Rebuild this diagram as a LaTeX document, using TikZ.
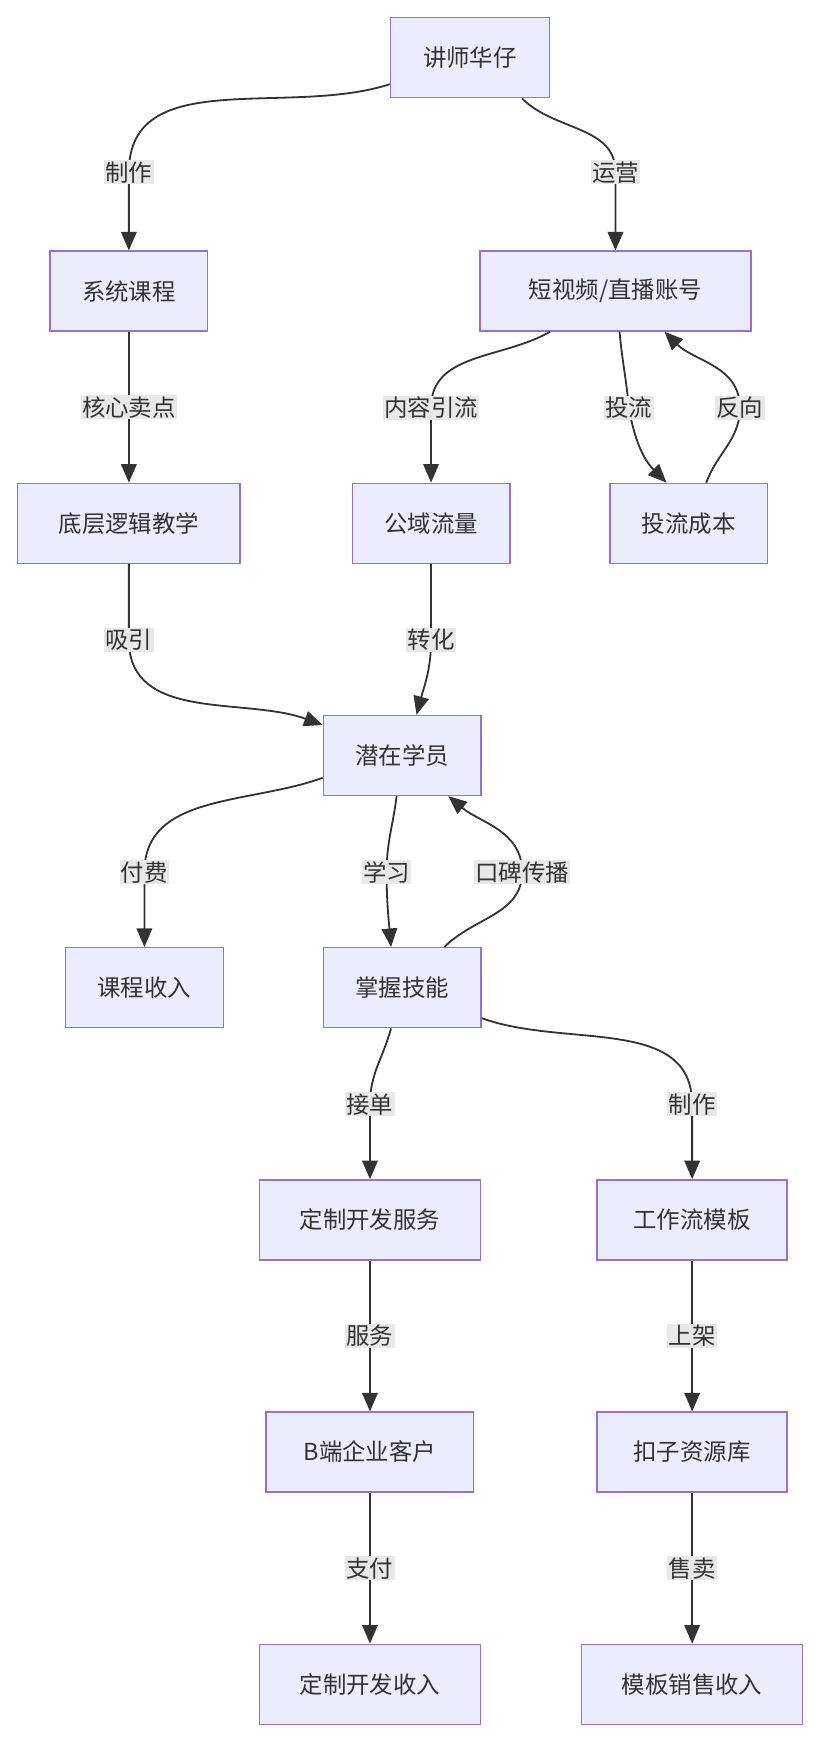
\documentclass[tikz,border=0pt]{standalone}
\usepackage{fontspec}
\setmainfont{Noto Sans CJK SC}
\usetikzlibrary{arrows.meta,calc}
\definecolor{boxfill}{HTML}{ECECFF}
\definecolor{boxline}{HTML}{9370DB}
\definecolor{ink}{HTML}{333333}
\definecolor{lblbg}{HTML}{E8E8E8}
\tikzset{
  box/.style={draw=boxline, fill=boxfill, line width=1pt, minimum height=2.16cm,
    inner xsep=0.45cm, text=ink, font=\fontsize{18}{22}\selectfont},
  lbl/.style={fill=lblbg, inner sep=1pt, text=ink, font=\fontsize{18}{22}\selectfont},
  arr/.style={draw=ink, line width=1.4pt, -{Triangle[length=0.5cm,width=0.42cm]}},
}
\begin{document}
\begin{tikzpicture}[x=0.03cm,y=-0.03cm]
    \useasboundingbox (0,0) rectangle (740,1568);

    % Nodes
    \node[box, minimum width=4.29cm] (teacher) at (423,52) {讲师华仔};
    \node[box, minimum width=4.26cm] (course) at (116,262) {系统课程};
    \node[box, minimum width=7.32cm] (video) at (554,262) {短视频/直播账号};
    \node[box, minimum width=6cm] (logic) at (116,471) {底层逻辑教学};
    \node[box, minimum width=4.26cm] (traffic) at (388,471) {公域流量};
    \node[box, minimum width=4.26cm] (cost) at (620,471) {投流成本};
    \node[box, minimum width=4.26cm] (student) at (362,680) {潜在学员};
    \node[box, minimum width=4.26cm] (income) at (130,889) {课程收入};
    \node[box, minimum width=4.26cm] (skill) at (362,889) {掌握技能};
    \node[box, minimum width=5.97cm] (service) at (333,1098) {定制开发服务};
    \node[box, minimum width=5.13cm] (flow) at (623,1098) {工作流模板};
    \node[box, minimum width=5.61cm] (client) at (333,1307) {B端企业客户};
    \node[box, minimum width=5.13cm] (store) at (623,1307) {扣子资源库};
    \node[box, minimum width=5.97cm] (devinc) at (333,1516) {定制开发收入};
    \node[box, minimum width=5.97cm] (tplinc) at (623,1516) {模板销售收入};

    % Label anchors
    \coordinate (l1) at (116,155);
    \coordinate (l2) at (554,155);
    \coordinate (l4) at (388,367);
    \coordinate (l5) at (566,367);
    \coordinate (l6) at (666,367);
    \coordinate (l7) at (116,576);
    \coordinate (l8) at (388,576);
    \coordinate (l9) at (130,785);
    \coordinate (l10) at (348,785);
    \coordinate (l11) at (470,785);
    \coordinate (l12) at (333,994);
    \coordinate (l13) at (623,994);

    % Connectors
    \draw[arr] ($(teacher.west)!0.65!(teacher.south west)$) to[out=198,in=90] (l1) -- (course.north);
    \draw[arr] ($(teacher.south)!0.65!(teacher.south east)$) to[out=-45,in=90] (l2) -- (video.north);
    \draw[arr] (course) -- (logic);
    \draw[arr] ($(video.south)!0.48!(video.south west)$) to[out=-150,in=90] (l4) -- (traffic.north);
    \draw[arr] ($(video.south)!0.03!(video.south east)$) to[out=-85,in=95] (l5) to[out=-80,in=135] ($(cost.north)!0.28!(cost.north west)$);
    \draw[arr] ($(cost.north)!0.22!(cost.north east)$) to[out=70,in=-90] (l6) to[out=90,in=-45] ($(video.south)!0.36!(video.south east)$);
    \draw[arr] (logic.south) to[out=-90,in=90] (l7) to[out=-90,in=160] ($(student.north west)!0.25!(student.west)$);
    \draw[arr] (traffic.south) -- (l8) to[out=-90,in=75] ($(student.north)!0.18!(student.north east)$);
    \draw[arr] ($(student.west)!0.55!(student.south west)$) to[out=-160,in=90] (l9) -- (income.north);
    \draw[arr] ($(student.south)!0.07!(student.south west)$) to[out=-97,in=90] (l10) to[out=-90,in=95] ($(skill.north)!0.14!(skill.north west)$);
    \draw[arr] ($(skill.north)!0.53!(skill.north east)$) to[out=45,in=-90] (l11) to[out=90,in=-40] ($(student.south)!0.58!(student.south east)$);
    \draw[arr] ($(skill.south)!0.14!(skill.south west)$) to[out=-105,in=90] (l12) -- (service.north);
    \draw[arr] ($(skill.east)!0.75!(skill.south east)$) to[out=-20,in=90] (l13) -- (flow.north);
    \draw[arr] (service) -- node[lbl]{服务} (client);
    \draw[arr] (flow) -- node[lbl]{上架} (store);
    \draw[arr] (client) -- node[lbl]{支付} (devinc);
    \draw[arr] (store) -- node[lbl]{售卖} (tplinc);

    % Labels
    \node[lbl] at (l1) {制作};
    \node[lbl] at (l2) {运营};
    \node[lbl] at ($(course)!0.5!(logic)$) {核心卖点};
    \node[lbl] at (l4) {内容引流};
    \node[lbl] at (l5) {投流};
    \node[lbl] at (l6) {反向};
    \node[lbl] at (l7) {吸引};
    \node[lbl] at (l8) {转化};
    \node[lbl] at (l9) {付费};
    \node[lbl] at (l10) {学习};
    \node[lbl] at (l11) {口碑传播};
    \node[lbl] at (l12) {接单};
    \node[lbl] at (l13) {制作};
\end{tikzpicture}
\end{document}
